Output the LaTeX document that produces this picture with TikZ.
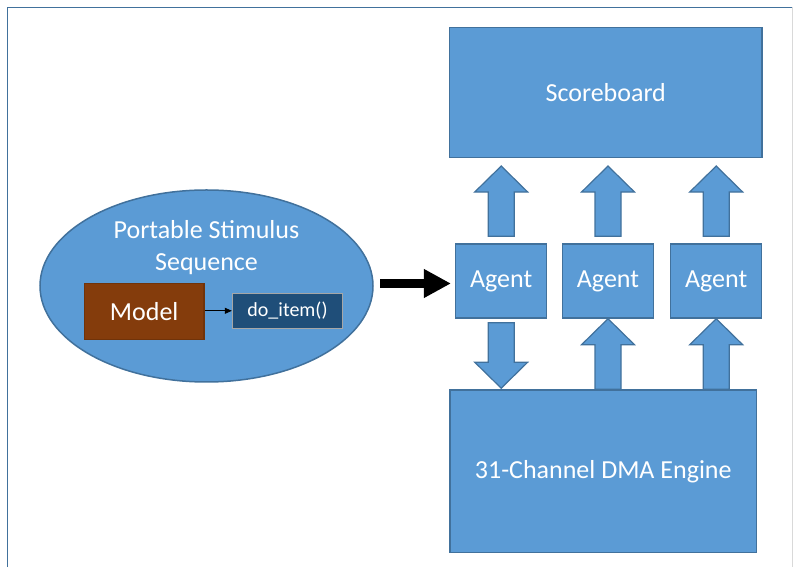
\documentclass[tikz,border=0pt]{standalone}
\usepackage{fontspec}
\setmainfont{Carlito}
\usetikzlibrary{calc, positioning, arrows.meta}

\definecolor{officeblue}{HTML}{5B9BD5}
\definecolor{officeedge}{HTML}{41719C}
\definecolor{modelbrown}{HTML}{843C0C}
\definecolor{itemblue}{HTML}{1F4E79}

\tikzset{
  block/.style={draw=officeedge, line width=1.5pt, fill=officeblue, text=white,
    font=\fontsize{26}{32}\selectfont, align=center, inner sep=0pt},
  fat-arrow/.style={draw=officeedge, line width=1.2pt, fill=officeblue, line join=miter},
}

% block arrow from tail (#1) to tip (#2), vertical only
\newcommand{\blockarrow}[2]{%
  \draw[fat-arrow] let \p1=(#1), \p2=(#2), \n1={sign(\y2-\y1)*26} in
    (\x1-13pt,\y1) -- (\x1-13pt,\y2-\n1) -- (\x1-26.5pt,\y2-\n1) -- (\x1,\y2)
    -- (\x1+26.5pt,\y2-\n1) -- (\x1+13pt,\y2-\n1) -- (\x1+13pt,\y1) -- cycle;}

\begin{document}
\begin{tikzpicture}[x=1pt, y=1pt]
\useasboundingbox (0,0) rectangle (794,567);

% Frame
\draw[color=officeedge, line width=1pt] (7.5,0) -- (7.5,559.5) -- (792,559.5);
\draw[color=gray!30, line width=1pt] (792,559.5) -- (792,0);

% Stimulus side
\draw[fill=officeblue, draw=officeedge, line width=1.5pt] (206.5,281) ellipse [x radius=166.5, y radius=96];
\coordinate (stim-east) at (373,281);
\node[text=white, font=\fontsize{26}{32}\selectfont, align=center] (stim-text) at (206.5,319.2)
  {Portable Stimulus\\Sequence};
\node[block, fill=modelbrown, draw=modelbrown!85!black, minimum width=119.7pt, minimum height=56pt]
  (model) at (144.2,255.7) {Model};
\node[block, fill=itemblue, draw=gray!70, line width=1pt, font=\fontsize{20}{24}\selectfont,
  minimum width=110.4pt, minimum height=35pt] (do-item) at (287.5,256.2) {do\_item()};
\draw[-{Triangle[length=7pt, width=6pt]}, line width=0.8pt] (model.east |- do-item.west) -- (do-item.west);

% Testbench side
\node[block, minimum width=312.5pt, minimum height=130pt] (score) at (605.75,474.7) {Scoreboard};
\node[block, minimum width=91pt, minimum height=74pt] (agent1) at (501.2,286) {Agent};
\node[block, minimum width=90.6pt, minimum height=74pt] (agent2) at (608,286) {Agent};
\node[block, minimum width=91pt, minimum height=74pt] (agent3) at (716.2,286) {Agent};
\node[block, minimum width=306.5pt, minimum height=162.7pt] (dma) at (603.25,95.7) {31-Channel DMA Engine};

% big arrow into the agents
\coordinate (in-tip) at ([shift={(-4,-2.5)}]agent1.west);
\draw[-{Triangle[length=27pt, width=27pt]}, line width=8.5pt] (stim-east |- in-tip) ++(7,0) -- (in-tip);

% agents -> scoreboard
\foreach \a in {agent1, agent2, agent3}{
  \blockarrow{$(\a.north)+(0,7)$}{$(\a.north |- score.south)+(0,-8)$}
}
% agent1 -> dma, dma -> agent2/3
\blockarrow{$(agent1.south)+(0,-4)$}{$(agent1.south |- dma.north)+(0,1)$}
\blockarrow{agent2.south |- dma.north}{agent2.south}
\blockarrow{agent3.south |- dma.north}{agent3.south}
\end{tikzpicture}
\end{document}
